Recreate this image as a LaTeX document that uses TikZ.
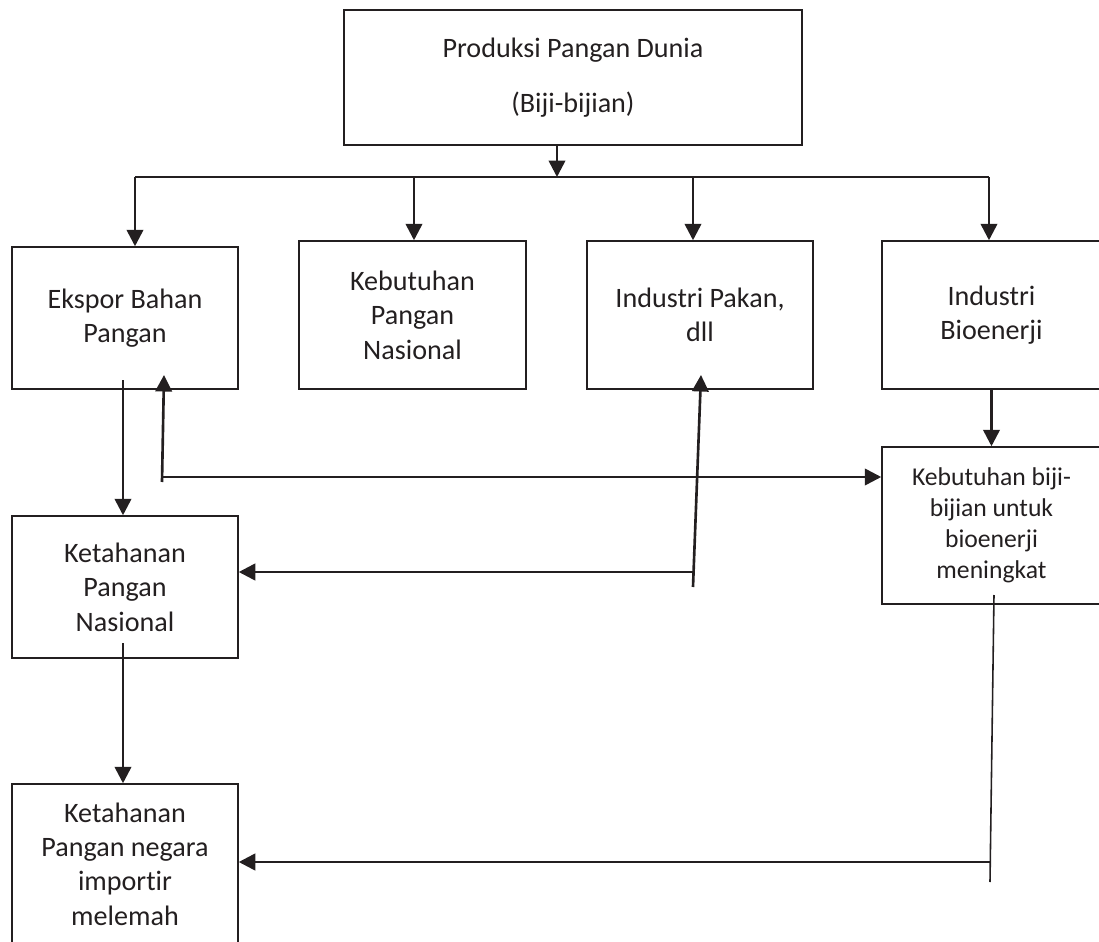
\documentclass[tikz,border=0pt]{standalone}
\usepackage{fontspec}
\setmainfont{Carlito}[Ligatures=NoCommon]
\usepackage{xcolor}
\usetikzlibrary{arrows.meta,positioning}
\definecolor{ink}{HTML}{231F20}

\begin{document}
\begin{tikzpicture}[
    x=0.2mm, y=-0.2mm,
    box/.style={rectangle, draw=ink, line width=0.85pt, align=center, inner sep=0pt, text=ink, font=\fontsize{16}{19.6}\selectfont},
    smallbox/.style={box, font=\fontsize{14.6}{17.6}\selectfont},
    arrow/.style={-{Triangle[length=3.3mm,width=3.3mm]}, draw=ink, line width=1.5pt},
    thinline/.style={draw=ink, line width=0.9pt}
]
\useasboundingbox (0,0) rectangle (1099,942);

% Top
\node[box, minimum width=91.6mm, minimum height=27mm] (prod) at (573,77.5) {Produksi Pangan Dunia\\[4mm](Biji-bijian)};

% Uses of grain
\node[box, minimum width=45.2mm, minimum height=28.4mm] (ekspor) at (125,318) {Ekspor Bahan\\Pangan};
\node[box, minimum width=45.4mm, minimum height=29.6mm] (kebutuhan) at (412.5,315) {Kebutuhan\\Pangan\\Nasional};
\node[box, minimum width=45.2mm, minimum height=29.6mm] (pakan) at (700,315) {Industri Pakan,\\dll};
\node[box, minimum width=43.8mm, minimum height=29.6mm] (bioenerji) at (991.5,315) {Industri\\Bioenerji};

% Effects
\node[smallbox, minimum width=43.8mm, minimum height=31.4mm] (biobutuh) at (991.5,525.5) {Kebutuhan biji-\\bijian untuk\\bioenerji\\meningkat};
\node[box, minimum width=45.2mm, minimum height=28.4mm] (tahanNas) at (125,587) {Ketahanan\\Pangan\\Nasional};
\node[box, minimum width=45.2mm, minimum height=32mm] (importir) at (125,864) {Ketahanan\\Pangan negara\\importir\\melemah};

% Branch points
\coordinate (split) at (557,177);
\coordinate (brA) at (135,177);
\coordinate (brB) at (414,177);
\coordinate (brC) at (693,177);
\coordinate (brD) at (989,177);

% Arrows from the top
\draw[arrow] (prod.south -| split) -- (split);
\draw[thinline] (brA) -- (brD);
\draw[arrow] (brA) -- (brA |- ekspor.north);
\draw[arrow] (brB) -- (brB |- kebutuhan.north);
\draw[arrow] (brC) -- (brC |- pakan.north);
\draw[arrow] (brD) -- (brD |- bioenerji.north);

% Ekspor
\coordinate (eksOut) at (123,380);
\coordinate (eksIn) at (162,482);
\coordinate (eksTip) at (164,375);
\coordinate (eksJoin) at (162,477);
\draw[arrow] (eksOut) -- (eksOut |- tahanNas.north);
\draw[arrow] (eksIn) -- (eksTip);
\draw[arrow] (eksJoin) -- (eksJoin -| biobutuh.west);

% Pakan
\coordinate (pkIn) at (693,587);
\coordinate (pkTip) at (701,375);
\coordinate (pkJoin) at (693,572);
\draw[arrow] (pkIn) -- (pkTip);
\draw[arrow] (pkJoin) -- (pkJoin -| tahanNas.east);

% Bioenerji
\coordinate (bbOut) at (994,595);
\coordinate (bbEnd) at (990,882);
\coordinate (bbJoin) at (990,862);
\draw[arrow] (bioenerji) -- (biobutuh);
\draw[thinline] (bbOut) -- (bbEnd);
\draw[arrow] (bbJoin) -- (bbJoin -| importir.east);

% Ketahanan nasional
\coordinate (tnOut) at (123,643);
\draw[arrow] (tnOut) -- (tnOut |- importir.north);

\end{tikzpicture}
\end{document}
